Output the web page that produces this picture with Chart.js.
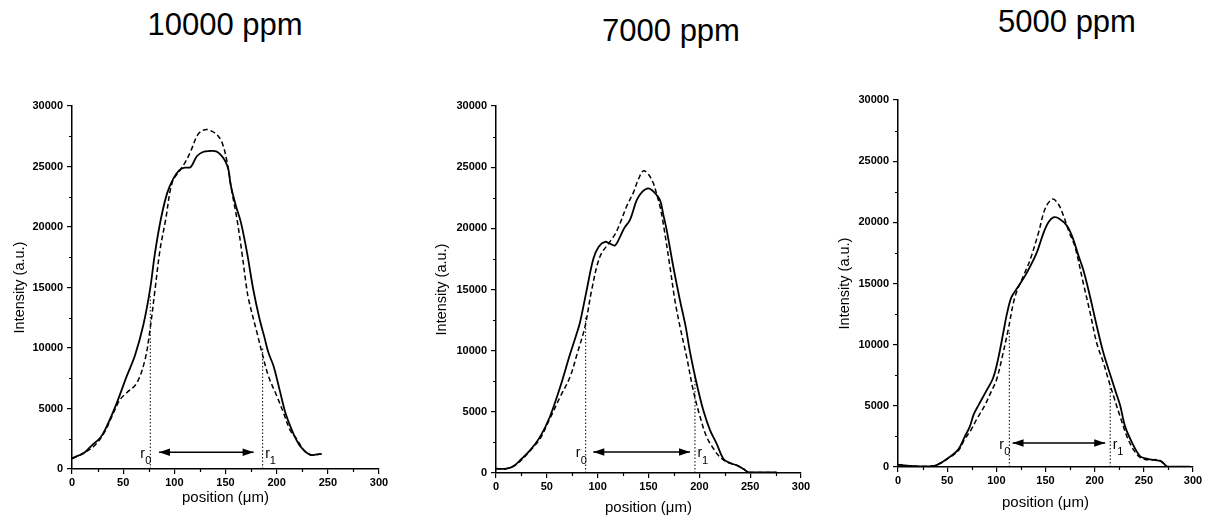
<!DOCTYPE html>
<html>
<head>
<meta charset="utf-8">
<script src="https://cdn.jsdelivr.net/npm/chart.js@4.4.1/dist/chart.umd.min.js"></script>
<style>
  body { margin: 0; background: #fff; width: 1208px; height: 521px; position: relative; overflow: hidden;
         font-family: "Liberation Sans", Arial, sans-serif; }
  .ttl { position: absolute; font-size: 31px; line-height: 31px; color: #000; white-space: nowrap; transform: translateX(-50%); }
  .box { position: absolute; top: 60px; }
</style>
</head>
<body>
<div class="ttl" style="left:225px;top:9px">10000 ppm</div>
<div class="ttl" style="left:671px;top:15px">7000 ppm</div>
<div class="ttl" style="left:1067px;top:6px">5000 ppm</div>
<div class="box" style="left:0px"><canvas id="c1" width="400" height="461"></canvas></div>
<div class="box" style="left:420px"><canvas id="c2" width="400" height="461"></canvas></div>
<div class="box" style="left:820px"><canvas id="c3" width="388" height="461"></canvas></div>
<script>
// position (um), intensity (a.u.)
const p1Solid = [[0,900],[6,1100],[12,1340],[20,2000],[27.6,2580],[34,3540],[43.8,5470],[53.5,7670],[61.6,9400],
  [69.7,11900],[76.2,14800],[81,17800],[86.7,20600],[93,22800],[99,24000],[105,24700],
  [110,24900],[116,24950],[122,25850],[128,26200],[134,26280],[141,26250],[146,25900],[150,25400],[153,24700],
  [155,23500],[160,21800],[165,20400],[171,17900],[177,14900],[183,12500],[188,10900],[192,9600],[197,8500],
  [203,6500],[208,4800],[213,3600],[217,2800],[222,2000],[226,1600],[230,1300],[234,1150],[238,1180],[244,1250]];
const p1Dashed = [[0,850],[8.8,1200],[21.7,1900],[31.5,3000],[40.5,4640],[47,5740],[53.5,6300],[63.3,7100],
  [71.4,9050],[76.2,11500],[81.1,14800],[86,18100],[91.5,20600],[98,23700],[106,24750],[111,25400],
  [116,26260],[122,27500],[126,27900],[131.5,28060],[137,27900],[142,27600],[146.7,26960],[151,25600],
  [156.5,22800],[161.3,20600],[166,17900],[170.4,15100],[172.6,14000],[180.8,11250],[185.7,9600],[192,7670],
  [200.3,6000],[206.7,4640],[213.2,3200],[219.8,2440],[226,1600],[230,1300],[234,1150],[238,1180],[244,1250]];

const p2Solid = [[0,350],[10,350],[17,550],[23.6,1040],[33.4,1850],[43.3,2950],[53,4600],[63,7000],[72.8,9700],
  [79,11300],[82.6,12300],[89.2,14950],[95.7,17500],[101,18500],[107.2,18900],[112,18750],[117,18600],[122,19300],
  [126,20000],[131.8,20700],[138.4,22300],[144,23000],[149.8,23270],[155,23000],[161.3,22300],[164.6,21100],
  [167.9,19860],[174.4,16860],[181,14100],[186.6,11950],[190.8,9900],[197.4,7300],[204,5100],[210.5,3500],
  [217,2400],[223.6,1170],[230,820],[236.7,630],[243,350],[248,80],[253,50],[276,50]];
const p2Dashed = [[0,350],[10,350],[17,550],[23.6,950],[33.4,1800],[43.3,2800],[53,4450],[63,6200],[72.8,7850],
  [80,9800],[87.5,11950],[94.1,14950],[102.3,17700],[112,18900],[117,19500],[122,20400],[128.5,21800],[135,22900],
  [140,24000],[145,24700],[150,24400],[154.7,23700],[158,22800],[161.3,21800],[164.5,20400],[171.1,16860],
  [176,14100],[181,11950],[187.5,9500],[194,6760],[200.7,4600],[207.2,2950],[213.8,2000],[220.3,1300],
  [226.9,900],[230,820],[236.7,630],[243,350],[248,80],[253,50],[276,50]];

const p3Solid = [[0,190],[12,100],[25,50],[37,100],[44,350],[51,730],[61,1400],[68,2500],[73,3300],[77,4300],
  [81.5,5000],[89,6100],[96.8,7300],[102,8900],[107,10950],[111,12600],[115.5,13900],[122.3,14750],[130.8,15850],
  [141,17500],[147.8,19100],[153,20000],[158,20400],[164,20300],[172,19700],[178.3,18600],[183,17400],
  [188.5,16100],[195.4,13900],[202.2,11500],[209,9300],[217.5,7130],[222,6000],[226,5000],[231,3300],[238,2000],
  [246,900],[252,700],[258,600],[268,450],[273.5,50],[285,30],[297,30]];
const p3Dashed = [[0,190],[12,100],[25,50],[37,100],[44,350],[51,700],[61,1300],[68,2300],[74,3000],[80,3900],
  [88,5000],[95,6200],[100.2,7130],[106,9000],[112,11200],[118.9,13900],[127.4,15600],[134.2,16900],
  [142.7,19100],[150,21200],[157.3,21900],[163,21500],[168,20600],[174,19200],[180,18000],[188.5,15000],
  [195.4,12600],[202.2,10100],[209,8500],[214,7130],[220,5600],[226,4100],[232.8,2500],[239.6,1400],[246,800],
  [252,600],[258,600],[266,550],[273.5,50],[285,30],[297,30]];

// r0 / r1 markers per panel
const r0Pos = [76.5, 88.2, 113.2];
const r0Top = [14300, 12800, 11200];
const r1Pos = [186.3, 195.7, 215.8];
const r1Top = [10000, 7900, 6600];
const arrowFrom = [85, 95.7, 116.5];
const arrowTo = [177.5, 190.8, 210.7];
const arrowLevel = [1390, 1720, 1960];

const yTicks = [0, 5000, 10000, 15000, 20000, 25000, 30000];
const xTicks = [0, 50, 100, 150, 200, 250, 300];

const family = '"Liberation Sans", Arial, sans-serif';

const minorTicks = {
  id: 'minorTicks',
  afterDraw(chart) {
    const { ctx, scales: { x, y } } = chart;
    ctx.save();
    ctx.strokeStyle = '#000';
    ctx.lineWidth = 1.2;
    ctx.beginPath();
    for (let i = 0; i < xTicks.length - 1; i++) {
      const px = Math.round(x.getPixelForValue((xTicks[i] + xTicks[i + 1]) / 2)) + 0.5;
      ctx.moveTo(px, x.top); ctx.lineTo(px, x.top + 3);
    }
    for (let i = 0; i < yTicks.length - 1; i++) {
      const py = Math.round(y.getPixelForValue((yTicks[i] + yTicks[i + 1]) / 2)) + 0.5;
      ctx.moveTo(y.right, py); ctx.lineTo(y.right - 3, py);
    }
    ctx.stroke();
    ctx.restore();
  }
};

// arrow heads and r0 / r1 labels
const arrowMarks = {
  id: 'arrowMarks',
  afterDatasetsDraw(chart, args, o) {
    const { ctx, scales: { x, y } } = chart;
    const ay = y.getPixelForValue(o.level);
    const xa = x.getPixelForValue(o.from), xb = x.getPixelForValue(o.to);
    ctx.save();
    ctx.fillStyle = '#000';
    [[xa, 1], [xb, -1]].forEach(([px, d]) => {
      ctx.beginPath();
      ctx.moveTo(px, ay);
      ctx.lineTo(px + d * 11, ay - 3.8);
      ctx.lineTo(px + d * 11, ay + 3.8);
      ctx.closePath();
      ctx.fill();
    });
    const x0 = x.getPixelForValue(o.r0), x1 = x.getPixelForValue(o.r1);
    ctx.textAlign = 'left';
    ctx.textBaseline = 'alphabetic';
    ctx.font = '14px ' + family;
    ctx.fillText('r', x0 - 10, ay + 5.5);
    ctx.fillText('r', x1 + 2.5, ay + 5.5);
    ctx.font = '11px ' + family;
    ctx.fillText('0', x0 - 5, ay + 12);
    ctx.fillText('1', x1 + 7, ay + 12);
    ctx.restore();
  }
};

const pts = arr => arr.map(([x, y]) => ({ x, y }));
const plain = v => String(v);

function makePanel(id, i, solid, dashed, lay) {
  new Chart(document.getElementById(id), {
    type: 'line',
    data: {
      datasets: [
        { data: pts(solid), borderColor: '#000', borderWidth: 1.8, pointRadius: 0, tension: 0.35 },
        { data: pts(dashed), borderColor: '#000', borderWidth: 1.5, borderDash: [5, 3], pointRadius: 0, tension: 0.35 },
        { data: [{ x: r0Pos[i], y: 0 }, { x: r0Pos[i], y: r0Top[i] }], borderColor: '#000', borderWidth: 1, borderDash: [1.5, 2], pointRadius: 0 },
        { data: [{ x: r1Pos[i], y: 0 }, { x: r1Pos[i], y: r1Top[i] }], borderColor: '#000', borderWidth: 1, borderDash: [1.5, 2], pointRadius: 0 },
        { data: [{ x: arrowFrom[i], y: arrowLevel[i] }, { x: arrowTo[i], y: arrowLevel[i] }], borderColor: '#000', borderWidth: 1.6, pointRadius: 0 },
      ],
    },
    options: {
      responsive: false,
      animation: false,
      layout: { padding: { left: 0, top: lay.top, right: lay.right, bottom: 0 } },
      plugins: {
        legend: { display: false },
        tooltip: { enabled: false },
        arrowMarks: { from: arrowFrom[i], to: arrowTo[i], level: arrowLevel[i], r0: r0Pos[i], r1: r1Pos[i] },
      },
      scales: {
        x: {
          type: 'linear', min: xTicks[0], max: xTicks[xTicks.length - 1],
          afterFit: s => { s.height = lay.xh; },
          afterBuildTicks: s => { s.ticks = xTicks.map(v => ({ value: v })); },
          ticks: { color: '#000', padding: 2, callback: plain, font: { family, size: 11, weight: 'bold' } },
          grid: { drawOnChartArea: false, tickLength: 5, color: '#000', lineWidth: 1.2 },
          border: { display: true, color: '#000', width: 1.5 },
          title: { display: true, text: 'position (\u03bcm)', color: '#000', font: { family, size: 15 }, padding: { top: 0, bottom: lay.xt } },
        },
        y: {
          min: yTicks[0], max: yTicks[yTicks.length - 1],
          afterFit: s => { s.width = lay.yw; },
          afterBuildTicks: s => { s.ticks = yTicks.map(v => ({ value: v })); },
          ticks: { color: '#000', padding: 4, callback: plain, font: { family, size: 11, weight: 'bold' } },
          grid: { drawOnChartArea: false, tickLength: 5, color: '#000', lineWidth: 1.2 },
          border: { display: true, color: '#000', width: 1.5 },
          title: { display: true, text: 'Intensity (a.u.)', color: '#000', font: { family, size: 14.5 }, padding: { top: lay.yt, bottom: 0 } },
        },
      },
    },
    plugins: [minorTicks, arrowMarks],
  });
}

makePanel('c1', 0, p1Solid, p1Dashed, { top: 46, right: 21, xh: 52, yw: 72, yt: 11, xt: 14 });
makePanel('c2', 1, p2Solid, p2Dashed, { top: 46, right: 19, xh: 48, yw: 76, yt: 13, xt: 4 });
makePanel('c3', 2, p3Solid, p3Dashed, { top: 40, right: 15, xh: 54, yw: 78, yt: 16, xt: 9 });
</script>
</body>
</html>
